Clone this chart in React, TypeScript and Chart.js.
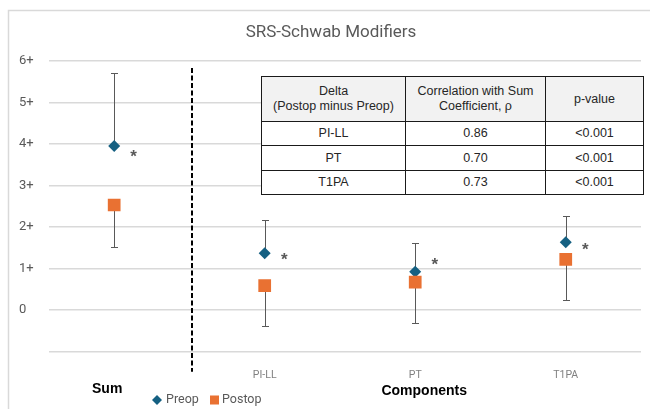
import React, { useEffect, useRef } from 'react';
import { Chart, registerables } from 'chart.js';

Chart.register(...registerables);

// ---- data ----
const categories = ['Sum', 'PI-LL', 'PT', 'T1PA'];
const tickLabels = ['', 'PI-LL', 'PT', 'T1PA'];
const preop = [3.95, 1.37, 0.92, 1.63];
const preopUpper = [5.7, 2.16, 1.62, 2.26];
const postop = [2.53, 0.59, 0.67, 1.22];
const postopLower = [1.52, -0.39, -0.31, 0.23];
const asteriskY = [3.81, 1.31, 1.19, 1.57];
const yTicks = [-1, 0, 1, 2, 3, 4, 5, 6];
const dividerX = 0.52;
const dividerRange = [5.83, -1.49];

const titleText = 'SRS-Schwab Modifiers';
const groupLabels = ['Sum', 'Components'];
const legendLabels = ['Preop', 'Postop'];

const tableHeader = [
  ['Delta', '(Postop minus Preop)'],
  ['Correlation with Sum', 'Coefficient, \u03c1'],
  ['p-value'],
];
const tableParams = ['PI-LL', 'PT', 'T1PA'];
const tableRho = ['0.86', '0.70', '0.73'];
const tablePval = ['<0.001', '<0.001', '<0.001'];

const PREOP_COLOR = '#156082';
const POSTOP_COLOR = '#E97132';
const GREY = '#595959';

const overlayPlugin = {
  id: 'overlay',
  beforeDatasetsDraw(chart: any) {
    const { ctx } = chart;
    const xs = chart.scales.x;
    const ys = chart.scales.y;
    ctx.save();
    ctx.strokeStyle = GREY;
    ctx.lineWidth = 1;
    const seg = (x1: number, y1: number, x2: number, y2: number) => {
      ctx.beginPath();
      ctx.moveTo(x1, y1);
      ctx.lineTo(x2, y2);
      ctx.stroke();
    };
    categories.forEach((_, i) => {
      const x = Math.round(xs.getPixelForValue(i)) + 0.5;
      const a0 = ys.getPixelForValue(preop[i]);
      const a1 = Math.round(ys.getPixelForValue(preopUpper[i])) + 0.5;
      seg(x, a0, x, a1);
      seg(x - 3.5, a1, x + 3.5, a1);
      const b0 = ys.getPixelForValue(postop[i]);
      const b1 = Math.round(ys.getPixelForValue(postopLower[i])) + 0.5;
      seg(x, b0, x, b1);
      seg(x - 3.5, b1, x + 3.5, b1);
    });
    ctx.restore();
  },
  afterDraw(chart: any) {
    const { ctx } = chart;
    const xs = chart.scales.x;
    const ys = chart.scales.y;
    ctx.save();
    // outer frame
    ctx.strokeStyle = '#d9d9d9';
    ctx.lineWidth = 1.5;
    ctx.beginPath();
    ctx.moveTo(8.5, 409);
    ctx.lineTo(8.5, 10.5);
    ctx.lineTo(650, 10.5);
    ctx.stroke();

    // dashed divider
    const dx = Math.round(xs.getPixelForValue(dividerX));
    ctx.strokeStyle = '#000';
    ctx.lineWidth = 2;
    ctx.setLineDash([5, 2.5]);
    ctx.beginPath();
    ctx.moveTo(dx, ys.getPixelForValue(dividerRange[0]));
    ctx.lineTo(dx, ys.getPixelForValue(dividerRange[1]));
    ctx.stroke();
    ctx.setLineDash([]);

    // asterisks
    ctx.fillStyle = GREY;
    ctx.font = 'bold 17px "Liberation Sans", Arial, sans-serif';
    ctx.textAlign = 'center';
    ctx.textBaseline = 'alphabetic';
    categories.forEach((_, i) => {
      const x = xs.getPixelForValue(i) + 19.5;
      const y = ys.getPixelForValue(asteriskY[i]);
      ctx.fillText('*', x, y + 17 * 0.58);
    });

    // title
    ctx.fillStyle = GREY;
    ctx.font = '17px Roboto, sans-serif';
    ctx.textBaseline = 'middle';
    ctx.fillText(titleText, 331, 33);

    // group labels
    ctx.fillStyle = '#000';
    ctx.font = 'bold 14px "Liberation Sans", Arial, sans-serif';
    ctx.fillText(groupLabels[0], xs.getPixelForValue(0) - 7, 389);
    ctx.fillText(groupLabels[1], xs.getPixelForValue(2) + 9, 391);

    // legend
    const ly = 400;
    ctx.fillStyle = PREOP_COLOR;
    ctx.beginPath();
    ctx.moveTo(157, ly - 5);
    ctx.lineTo(162, ly);
    ctx.lineTo(157, ly + 5);
    ctx.lineTo(152, ly);
    ctx.closePath();
    ctx.fill();
    ctx.fillStyle = POSTOP_COLOR;
    ctx.fillRect(210, ly - 4.5, 9, 9);
    ctx.fillStyle = GREY;
    ctx.font = '12.5px Roboto, sans-serif';
    ctx.textAlign = 'left';
    ctx.fillText(legendLabels[0], 166, ly);
    ctx.fillText(legendLabels[1], 222, ly);
    ctx.restore();
  },
};

export default function App() {
  const canvasRef = useRef<HTMLCanvasElement | null>(null);

  useEffect(() => {
    const canvas = canvasRef.current;
    if (!canvas) return;
    const chart = new Chart(canvas, {
      type: 'scatter',
      data: {
        datasets: [
          {
            label: legendLabels[0],
            data: preop.map((v, i) => ({ x: i, y: v })),
            pointStyle: 'rectRot',
            pointRadius: 6,
            pointBorderWidth: 0,
            backgroundColor: PREOP_COLOR,
            borderColor: PREOP_COLOR,
            order: 1,
          },
          {
            label: legendLabels[1],
            data: postop.map((v, i) => ({ x: i, y: v })),
            pointStyle: 'rect',
            pointRadius: 9,
            pointBorderWidth: 0,
            backgroundColor: POSTOP_COLOR,
            borderColor: POSTOP_COLOR,
            order: 0,
          },
        ],
      },
      options: {
        animation: false,
        responsive: false,
        events: [],
        layout: { padding: { left: 19, right: 9, top: 61, bottom: 0 } },
        plugins: {
          legend: { display: false },
          title: { display: false },
          tooltip: { enabled: false },
        },
        scales: {
          x: {
            type: 'linear',
            min: -0.433,
            max: 3.5,
            grid: { display: false },
            border: { display: false },
            afterBuildTicks: (s: any) => {
              s.ticks = categories.map((_, i) => ({ value: i }));
            },
            afterFit: (s: any) => {
              s.height = 57.5;
            },
            ticks: {
              autoSkip: false,
              maxRotation: 0,
              padding: 10,
              font: { family: 'Roboto', size: 10.5 },
              color: '#808080',
              callback: (v: any) => tickLabels[v] ?? '',
            },
          },
          y: {
            min: -1,
            max: 6,
            afterBuildTicks: (s: any) => {
              s.ticks = yTicks.map((v) => ({ value: v }));
            },
            afterFit: (s: any) => {
              s.width = 30;
            },
            grid: { color: '#d9d9d9', lineWidth: 1.5, drawTicks: false },
            border: { display: false },
            ticks: {
              crossAlign: 'far',
              padding: 0,
              font: { family: 'Roboto', size: 13 },
              color: GREY,
              callback: (v: any) => (v === -1 ? '' : v === 0 ? '0' : v + '+'),
            },
          },
        },
      },
      plugins: [overlayPlugin],
    } as any);
    return () => chart.destroy();
  }, []);

  const cell: React.CSSProperties = {
    border: '1.5px solid #1a1a1a',
    textAlign: 'center',
    verticalAlign: 'middle',
    padding: 0,
    lineHeight: '15px',
  };

  return (
    <div style={{ position: 'absolute', left: 0, top: 0, width: 650, height: 409, background: '#fff' }}>
      <canvas ref={canvasRef} width={650} height={409} style={{ position: 'absolute', left: 0, top: 0, width: 650, height: 409 }} />
      <table
        style={{
          position: 'absolute',
          left: 261,
          top: 76,
          width: 382,
          height: 118,
          borderCollapse: 'collapse',
          tableLayout: 'fixed',
          fontFamily: '"Liberation Sans", Arial, sans-serif',
          fontSize: 12.5,
          color: '#262626',
          background: '#fff',
        }}
      >
        <colgroup>
          <col style={{ width: 144 }} />
          <col style={{ width: 140 }} />
          <col style={{ width: 98 }} />
        </colgroup>
        <tbody>
          <tr style={{ height: 45, background: '#f2f2f2' }}>
            {tableHeader.map((lines, i) => (
              <td key={i} style={cell}>
                {lines.map((l, j) => (
                  <div key={j}>{l}</div>
                ))}
              </td>
            ))}
          </tr>
          {tableParams.map((p, i) => (
            <tr key={p} style={{ height: i === 1 ? 25 : 24 }}>
              <td style={cell}>{p}</td>
              <td style={cell}>{tableRho[i]}</td>
              <td style={cell}>{tablePval[i]}</td>
            </tr>
          ))}
        </tbody>
      </table>
    </div>
  );
}
